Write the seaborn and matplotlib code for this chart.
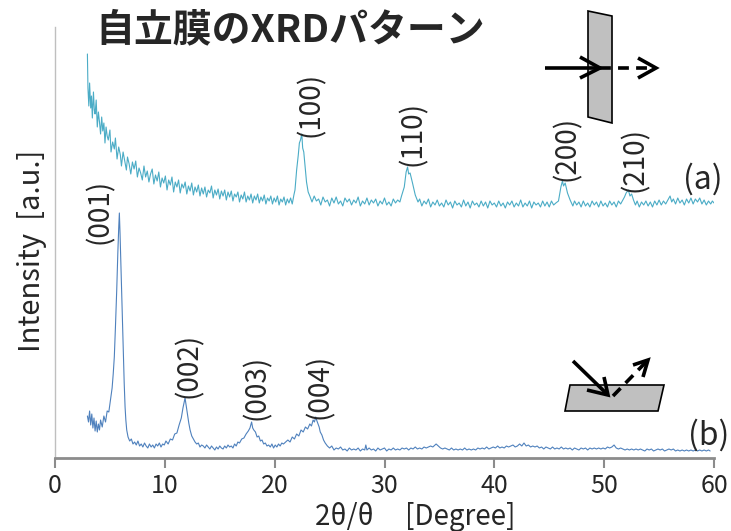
import pandas as pd
import seaborn as sns
import matplotlib.pyplot as plt
from matplotlib.patches import Polygon
from matplotlib.lines import Line2D

# XRD scans: (2theta [deg], intensity [a.u.])
# (a) transmission through the free-standing film
scan_a = [
    (2.95, 404), (3.0, 370), (3.08, 352), (3.15, 375), (3.25, 350), (3.32, 362), (3.4, 340), (3.5, 366),
    (3.58, 348), (3.65, 344), (3.75, 358), (3.85, 331), (3.95, 346), (4.05, 336), (4.15, 324), (4.25, 341),
    (4.35, 327), (4.45, 335), (4.55, 315), (4.65, 331), (4.75, 322), (4.85, 318), (5.0, 328), (5.1, 306),
    (5.25, 316), (5.4, 309), (5.5, 320), (5.65, 299), (5.8, 311), (5.95, 303), (6.05, 292), (6.2, 306),
    (6.35, 297), (6.5, 288), (6.6, 301), (6.75, 294), (6.9, 284), (7.05, 296), (7.2, 289), (7.35, 297),
    (7.5, 281), (7.65, 290), (7.8, 285), (7.95, 278), (8.1, 292), (8.25, 281), (8.4, 287), (8.55, 276),
    (8.7, 284), (8.85, 289), (9.0, 274), (9.15, 283), (9.3, 277), (9.45, 286), (9.6, 271), (9.75, 280),
    (9.9, 275), (10.05, 282), (10.2, 268), (10.35, 278), (10.5, 273), (10.65, 281), (10.8, 266), (10.95, 276),
    (11.1, 271), (11.25, 278), (11.4, 265), (11.55, 274), (11.7, 270), (11.85, 276), (12.0, 264), (12.15, 272),
    (12.3, 267), (12.45, 275), (12.6, 263), (12.75, 271), (12.9, 266), (13.05, 273), (13.2, 262), (13.35, 270),
    (13.5, 264), (13.65, 271), (13.8, 261), (13.95, 268), (14.1, 265), (14.25, 272), (14.4, 260), (14.55, 268),
    (14.7, 263), (14.85, 269), (15.0, 259), (15.15, 267), (15.3, 262), (15.45, 268), (15.6, 258), (15.75, 266),
    (15.9, 261), (16.05, 267), (16.2, 257), (16.35, 264), (16.5, 261), (16.65, 266), (16.8, 256), (16.95, 263),
    (17.1, 259), (17.25, 266), (17.4, 256), (17.55, 262), (17.7, 258), (17.85, 264), (18.0, 255), (18.15, 262),
    (18.3, 258), (18.45, 264), (18.6, 255), (18.75, 261), (18.9, 257), (19.05, 263), (19.2, 254), (19.35, 260),
    (19.5, 257), (19.65, 262), (19.8, 254), (19.95, 260), (20.1, 256), (20.25, 262), (20.4, 253), (20.55, 259),
    (20.7, 256), (20.85, 261), (21.0, 253), (21.15, 259), (21.3, 255), (21.45, 260), (21.6, 254), (21.75, 263),
    (21.85, 268), (22.0, 288), (22.15, 303), (22.25, 315), (22.35, 318), (22.47, 324), (22.55, 310), (22.65, 306),
    (22.77, 291), (22.9, 276), (23.05, 266), (23.2, 262), (23.4, 256), (23.6, 262), (23.8, 257), (24.0, 259),
    (24.2, 253), (24.4, 261), (24.6, 256), (24.8, 258), (25.0, 252), (25.2, 260), (25.4, 255), (25.6, 261),
    (25.8, 254), (26.0, 257), (26.2, 252), (26.4, 260), (26.6, 256), (26.8, 259), (27.0, 253), (27.2, 258),
    (27.4, 255), (27.6, 261), (27.8, 252), (28.0, 257), (28.2, 254), (28.4, 260), (28.6, 253), (28.8, 258),
    (29.0, 255), (29.2, 259), (29.4, 252), (29.6, 257), (29.8, 254), (30.0, 260), (30.2, 253), (30.4, 256),
    (30.6, 252), (30.8, 259), (31.0, 255), (31.2, 258), (31.4, 256), (31.55, 262), (31.8, 271), (31.97, 286),
    (32.1, 291), (32.2, 284), (32.33, 285), (32.55, 275), (32.8, 263), (33.05, 256), (33.2, 259), (33.4, 252),
    (33.6, 257), (33.8, 254), (34.0, 259), (34.2, 251), (34.4, 256), (34.6, 253), (34.8, 258), (35.0, 252),
    (35.2, 255), (35.4, 251), (35.6, 258), (35.8, 253), (36.0, 256), (36.2, 250), (36.4, 257), (36.6, 253),
    (36.8, 255), (37.0, 251), (37.2, 258), (37.4, 252), (37.6, 256), (37.8, 250), (38.0, 257), (38.2, 253),
    (38.4, 255), (38.6, 251), (38.8, 257), (39.0, 252), (39.2, 256), (39.4, 250), (39.6, 257), (39.8, 253),
    (40.0, 255), (40.2, 251), (40.4, 257), (40.6, 252), (40.8, 255), (41.0, 250), (41.2, 256), (41.4, 253),
    (41.6, 257), (41.8, 251), (42.0, 255), (42.2, 252), (42.4, 258), (42.6, 251), (42.8, 255), (43.0, 252),
    (43.2, 257), (43.4, 250), (43.6, 256), (43.8, 253), (44.0, 255), (44.2, 251), (44.4, 257), (44.6, 252),
    (44.8, 256), (45.0, 251), (45.2, 257), (45.4, 253), (45.6, 255), (45.84, 257), (46.06, 271), (46.2, 277),
    (46.3, 272), (46.45, 275), (46.66, 265), (46.9, 258), (47.15, 252), (47.3, 257), (47.5, 253), (47.7, 256),
    (47.9, 251), (48.1, 257), (48.3, 252), (48.5, 255), (48.7, 251), (48.9, 257), (49.1, 253), (49.3, 256),
    (49.5, 251), (49.7, 257), (49.9, 252), (50.1, 255), (50.3, 251), (50.5, 257), (50.7, 253), (50.9, 256),
    (51.1, 251), (51.3, 257), (51.5, 254), (51.7, 258), (51.85, 261), (52.0, 265), (52.2, 268), (52.35, 262),
    (52.5, 264), (52.67, 258), (52.85, 253), (53.0, 257), (53.2, 251), (53.4, 256), (53.6, 253), (53.8, 257),
    (54.0, 252), (54.2, 256), (54.4, 251), (54.6, 257), (54.8, 253), (55.0, 258), (55.2, 253), (55.4, 257),
    (55.6, 254), (55.8, 258), (56.0, 262), (56.15, 256), (56.3, 259), (56.5, 254), (56.7, 260), (56.9, 255),
    (57.1, 258), (57.3, 253), (57.5, 259), (57.7, 255), (57.9, 260), (58.1, 254), (58.3, 259), (58.5, 256),
    (58.7, 260), (58.9, 254), (59.1, 258), (59.3, 253), (59.5, 257), (59.7, 254), (59.85, 257), (60.0, 255),
]

# (b) reflection from the film surface
scan_b = [
    (2.95, 42), (3.05, 36), (3.15, 47), (3.25, 33), (3.35, 44), (3.45, 30), (3.55, 40), (3.65, 27),
    (3.75, 37), (3.85, 26), (3.95, 34), (4.05, 28), (4.15, 38), (4.3, 31), (4.45, 42), (4.6, 36),
    (4.75, 47), (4.9, 46), (5.05, 58), (5.2, 70), (5.3, 84), (5.4, 101), (5.5, 130), (5.62, 168),
    (5.72, 205), (5.8, 230), (5.86, 245), (5.92, 225), (5.98, 201), (6.04, 175), (6.1, 151), (6.16, 125),
    (6.22, 101), (6.3, 75), (6.38, 51), (6.45, 38), (6.53, 28), (6.65, 21), (6.8, 17), (6.95, 19),
    (7.1, 14), (7.25, 16), (7.4, 13), (7.55, 17), (7.7, 12), (7.85, 14), (8.0, 11), (8.15, 15),
    (8.3, 12), (8.45, 10), (8.6, 14), (8.75, 11), (8.9, 13), (9.05, 10), (9.2, 14), (9.35, 12),
    (9.5, 15), (9.65, 11), (9.8, 14), (9.95, 13), (10.1, 17), (10.3, 14), (10.5, 19), (10.7, 18),
    (10.9, 24), (11.1, 25), (11.3, 33), (11.5, 40), (11.65, 50), (11.75, 55), (11.84, 60), (11.95, 52),
    (12.05, 45), (12.18, 35), (12.3, 28), (12.45, 22), (12.6, 19), (12.75, 16), (12.9, 14), (13.05, 15),
    (13.2, 11), (13.35, 13), (13.5, 12), (13.65, 10), (13.8, 13), (13.95, 11), (14.1, 9), (14.25, 12),
    (14.4, 10), (14.55, 8), (14.7, 11), (14.85, 9), (15.0, 12), (15.15, 10), (15.3, 9), (15.45, 12),
    (15.6, 10), (15.75, 13), (15.9, 11), (16.05, 12), (16.2, 10), (16.35, 14), (16.5, 12), (16.65, 16),
    (16.8, 15), (17.0, 19), (17.2, 20), (17.4, 24), (17.6, 27), (17.75, 30), (17.85, 34), (17.9, 36),
    (18.0, 30), (18.1, 28), (18.25, 26), (18.4, 21), (18.55, 22), (18.7, 17), (18.85, 18), (19.0, 14),
    (19.15, 15), (19.3, 12), (19.45, 13), (19.6, 11), (19.75, 14), (19.9, 10), (20.05, 13), (20.2, 11),
    (20.35, 14), (20.5, 12), (20.65, 15), (20.8, 14), (21.0, 16), (21.2, 18), (21.4, 16), (21.6, 21),
    (21.8, 19), (22.0, 24), (22.2, 22), (22.4, 28), (22.6, 26), (22.8, 31), (23.0, 29), (23.2, 34),
    (23.35, 32), (23.5, 38), (23.62, 36), (23.74, 41), (23.85, 37), (23.95, 34), (24.05, 31), (24.15, 26),
    (24.3, 23), (24.45, 18), (24.6, 15), (24.8, 12), (25.0, 10), (25.2, 12), (25.4, 8), (25.6, 10),
    (25.8, 9), (26.0, 11), (26.2, 8), (26.4, 9), (26.6, 7), (26.8, 10), (27.0, 8), (27.2, 9),
    (27.4, 8), (27.6, 10), (27.8, 7), (28.0, 9), (28.2, 8), (28.3, 13), (28.4, 8), (28.6, 10),
    (28.8, 8), (29.0, 9), (29.2, 7), (29.4, 10), (29.6, 8), (29.8, 9), (30.0, 10), (30.2, 7),
    (30.4, 9), (30.6, 8), (30.8, 10), (31.0, 8), (31.2, 9), (31.4, 8), (31.6, 10), (31.8, 9),
    (32.0, 10), (32.2, 8), (32.4, 10), (32.6, 9), (32.8, 11), (33.0, 9), (33.2, 10), (33.4, 9),
    (33.6, 11), (33.8, 10), (34.0, 11), (34.2, 12), (34.4, 11), (34.6, 13), (34.7, 14), (34.9, 12),
    (35.1, 10), (35.3, 9), (35.5, 10), (35.7, 9), (35.9, 8), (36.1, 10), (36.3, 8), (36.5, 9),
    (36.7, 8), (36.9, 9), (37.1, 8), (37.3, 10), (37.5, 8), (37.7, 9), (37.9, 8), (38.1, 9),
    (38.3, 8), (38.5, 10), (38.7, 9), (38.9, 10), (39.1, 9), (39.3, 11), (39.5, 9), (39.7, 10),
    (39.9, 11), (40.1, 10), (40.3, 12), (40.5, 10), (40.7, 11), (40.9, 10), (41.1, 12), (41.3, 11),
    (41.5, 12), (41.7, 13), (41.9, 11), (42.1, 12), (42.3, 14), (42.5, 12), (42.7, 15), (42.9, 12),
    (43.1, 13), (43.3, 11), (43.5, 12), (43.7, 11), (43.9, 12), (44.1, 10), (44.3, 11), (44.5, 9),
    (44.7, 11), (44.9, 10), (45.1, 9), (45.3, 11), (45.5, 9), (45.7, 10), (45.9, 9), (46.1, 11),
    (46.3, 9), (46.5, 10), (46.7, 9), (46.9, 10), (47.1, 8), (47.3, 10), (47.5, 9), (47.7, 8),
    (47.9, 10), (48.1, 9), (48.3, 10), (48.5, 8), (48.7, 10), (48.9, 9), (49.1, 10), (49.3, 9),
    (49.5, 10), (49.7, 9), (49.9, 10), (50.1, 9), (50.3, 11), (50.5, 10), (50.7, 11), (50.9, 13),
    (51.1, 10), (51.3, 9), (51.5, 10), (51.7, 9), (51.9, 8), (52.1, 9), (52.3, 8), (52.5, 9),
    (52.7, 8), (52.9, 9), (53.1, 8), (53.3, 9), (53.5, 8), (53.7, 7), (53.9, 9), (54.1, 8),
    (54.3, 9), (54.5, 7), (54.7, 8), (54.9, 9), (55.1, 8), (55.3, 9), (55.5, 7), (55.7, 8),
    (55.9, 9), (56.1, 8), (56.3, 9), (56.5, 7), (56.7, 8), (56.9, 7), (57.1, 8), (57.3, 7),
    (57.5, 8), (57.7, 7), (57.9, 8), (58.1, 7), (58.3, 8), (58.5, 7), (58.7, 8), (58.9, 7),
    (59.1, 8), (59.3, 7), (59.5, 8), (59.65, 7),
]

# peak indices and where their labels sit (label bottom, in data units)
labels_a = ['(100)', '(110)', '(200)', '(210)']
label_pos_a = [(23.3, 321), (32.6, 292), (46.6, 277), (52.8, 266)]
labels_b = ['(001)', '(002)', '(003)', '(004)']
label_pos_b = [(4.1, 214), (12.2, 60), (18.4, 38), (24.1, 39)]

x_ticks = [0, 10, 20, 30, 40, 50, 60]

W, H = 731, 531
sns.set_style('white')
plt.rcParams['font.family'] = ['Noto Sans CJK JP', 'DejaVu Sans']

df_a = pd.DataFrame(scan_a, columns=['two_theta', 'intensity'])
df_b = pd.DataFrame(scan_b, columns=['two_theta', 'intensity'])

fig = plt.figure(figsize=(W / 100, H / 100), dpi=100)
ax = fig.add_axes([55 / W, 73 / H, 659 / W, 431 / H])

sns.lineplot(data=df_a, x='two_theta', y='intensity', color='#4BACC6', lw=0.8,
             estimator=None, sort=False, ax=ax)
sns.lineplot(data=df_b, x='two_theta', y='intensity', color='#4F81BD', lw=0.8,
             estimator=None, sort=False, ax=ax)

ax.set_xlim(0, 60)
ax.set_ylim(0, 431)
ax.set_xticks(x_ticks)
ax.set_yticks([])
ax.tick_params(axis='x', direction='out', length=7, width=1.5, color='#8C8C8C',
               labelsize=18, pad=4, bottom=True)
for s in ['top', 'right']:
    ax.spines[s].set_visible(False)
ax.spines['bottom'].set_color('#8C8C8C')
ax.spines['bottom'].set_linewidth(2)
ax.spines['left'].set_color('#BFBFBF')
ax.spines['left'].set_linewidth(1)

ax.set_xlabel('2θ/θ     [Degree]', fontsize=20, va='center')
ax.xaxis.set_label_coords(0.546, -0.137)
ax.set_ylabel('Intensity  [a.u.]', fontsize=21, va='center')
ax.yaxis.set_label_coords(-0.035, 0.48)

# peak labels
for lab, (x, y) in zip(labels_a + labels_b, label_pos_a + label_pos_b):
    ax.text(x, y, lab, rotation=90, ha='center', va='bottom', fontsize=20)

ax.text(59.0, 279, '(a)', ha='center', va='center', fontsize=23)
ax.text(59.5, 23, '(b)', ha='center', va='center', fontsize=23)

fig.text(95 / W, 1 - 30 / H, '自立膜のXRDパターン', fontsize=28, fontweight='bold',
         ha='left', va='center')


# little sketches of the measurement geometry (figure pixel coords)
def fp(pts):
    return [(x / W, 1 - y / H) for x, y in pts]


def add_line(pts, ls='-'):
    xs, ys = zip(*fp(pts))
    fig.add_artist(Line2D(xs, ys, color='black', lw=2.6, ls=ls,
                          solid_capstyle='butt', dash_capstyle='butt',
                          solid_joinstyle='miter', transform=fig.transFigure))


fig.add_artist(Polygon(fp([(588, 11), (612, 16), (612, 123), (588, 117)]),
                       closed=True, fc='#C0C0C0', ec='black', lw=1.2,
                       transform=fig.transFigure))
add_line([(545, 68), (600, 68)])
add_line([(580, 57), (600, 68), (580, 78)])
add_line([(600, 68), (652, 68)], ls=(0, (3, 2)))
add_line([(638, 58), (656, 68), (638, 78)])

fig.add_artist(Polygon(fp([(565, 411), (570, 385), (664, 385), (658, 411)]),
                       closed=True, fc='#C0C0C0', ec='black', lw=1.2,
                       transform=fig.transFigure))
add_line([(573, 361), (607, 394)])
add_line([(587, 390), (608, 395), (604, 377)])
add_line([(613, 396), (646, 362)], ls=(0, (3, 2)))
add_line([(633, 365), (648, 360), (643, 377)])

fig.savefig('out.png', dpi=100)
